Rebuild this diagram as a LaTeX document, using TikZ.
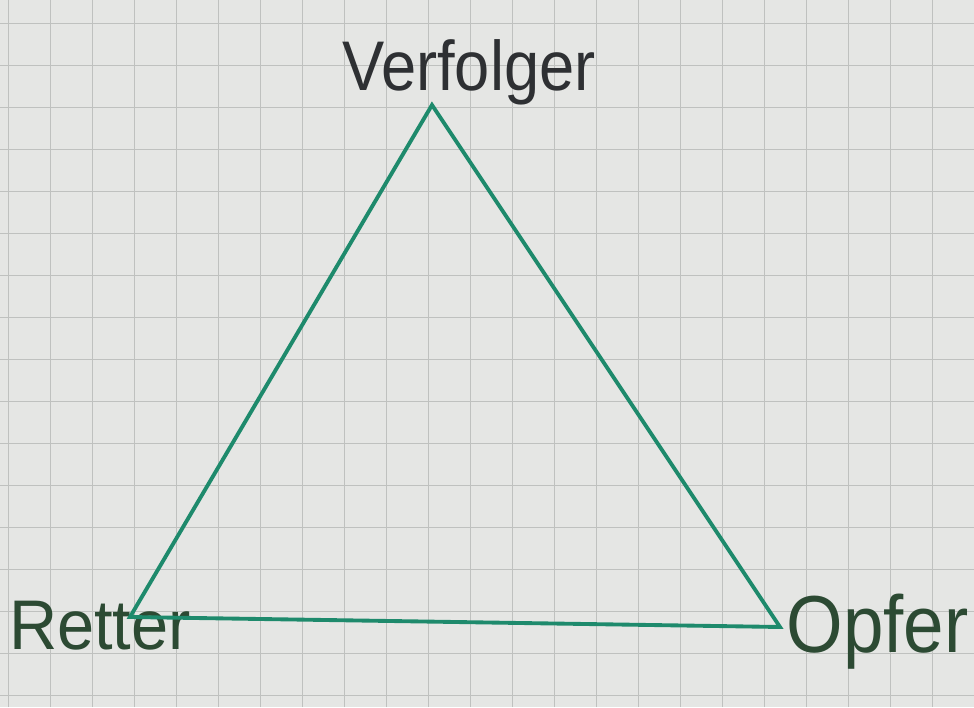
\documentclass[tikz,border=0pt]{standalone}
\usepackage{fontspec}
\setmainfont{Liberation Sans}
\definecolor{paper}{HTML}{E5E6E4}
\definecolor{gridline}{HTML}{BFC1BF}
\definecolor{marker}{HTML}{1E8A6C}
\definecolor{inkdark}{HTML}{2E3033}
\definecolor{inkgreen}{HTML}{2C4A33}
\begin{document}
\begin{tikzpicture}[
  role/.style={font=\fontsize{40}{44}\selectfont, inner sep=0pt},
  side/.style={draw=marker, line width=2.2pt, line cap=round}]
\fill[paper] (0,0) rectangle (19.48,14.14);
\useasboundingbox (0,0) rectangle (19.48,14.14);
\foreach \i in {0,...,22} \draw[gridline, line width=0.45pt] ({0.16+0.84*\i},0) -- ({0.16+0.84*\i},14.14);
\foreach \j in {0,...,16} \draw[gridline, line width=0.45pt] (0,{13.68-0.84*\j}) -- (19.48,{13.68-0.84*\j});
\coordinate (top) at (8.64,12.04);
\coordinate (left) at (2.60,1.80);
\coordinate (right) at (15.60,1.60);
\node[role, text=inkdark, xscale=0.9] (verfolger) at (9.38,12.70) {Verfolger};
\node[role, text=inkgreen, xscale=0.95] (retter) at (2.00,1.62) {Retter};
\node[role, text=inkgreen, font=\fontsize{46}{50}\selectfont, xscale=0.9] (opfer) at (17.55,1.50) {Opfer};
\draw[side] (top) -- (left) -- (right) -- cycle;
\end{tikzpicture}
\end{document}
